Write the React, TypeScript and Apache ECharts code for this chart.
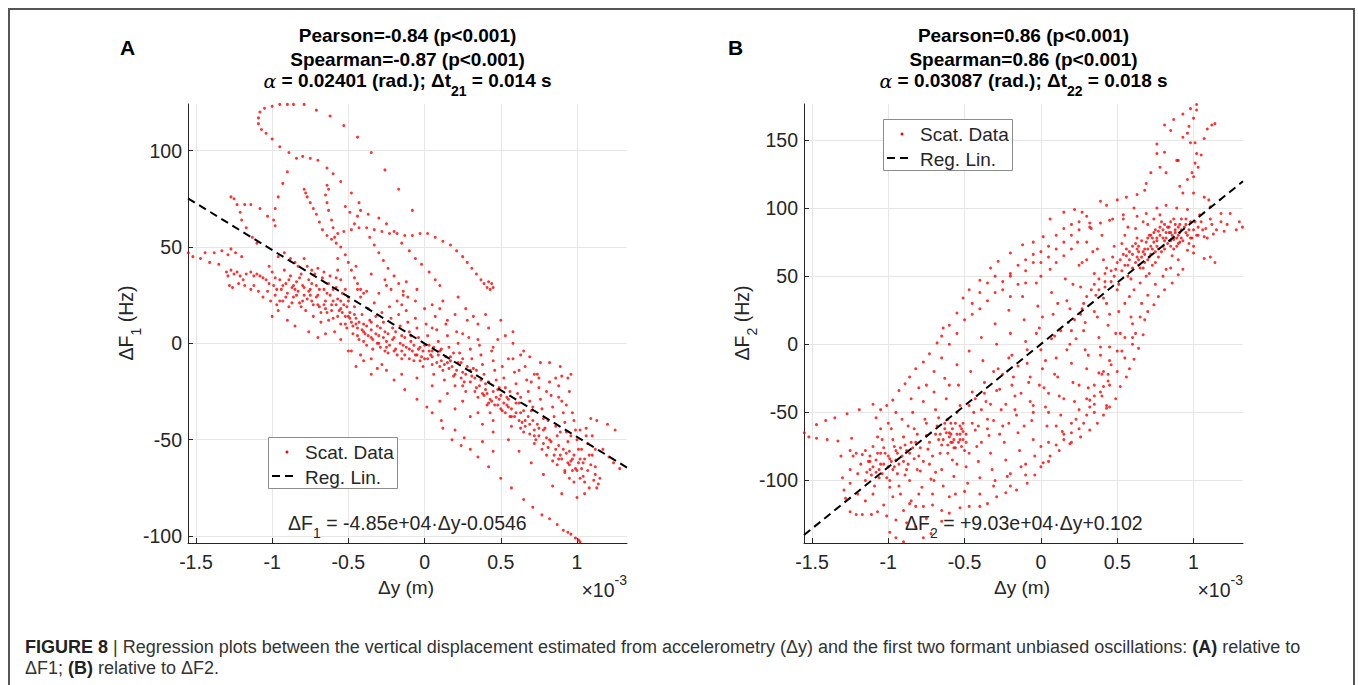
import React, { useEffect, useRef } from 'react';
import * as echarts from 'echarts';

// ---------- data (x in units of 1e-3 m, y in Hz) ----------
const xTicks = [-1.5, -1, -0.5, 0, 0.5, 1];
const yTicksA = [-100, -50, 0, 50, 100];
const yTicksB = [-100, -50, 0, 50, 100, 150];
const xRangeA = [-1.552, 1.328];
const xRangeB = [-1.552, 1.324];
const yRangeA = [-103.6, 124.2];
const yRangeB = [-145.9, 176.4];
const regA = { slope: -48.5, intercept: -0.0546 };
const regB = { slope: 90.3, intercept: 0.102 };

const titleA = ['Pearson=-0.84 (p<0.001)', 'Spearman=-0.87 (p<0.001)'];
const titleB = ['Pearson=0.86 (p<0.001)', 'Spearman=0.86 (p<0.001)'];
const alphaA = { alpha: '0.02401', sub: '21', dt: '0.014' };
const alphaB = { alpha: '0.03087', sub: '22', dt: '0.018' };

const scatterA: number[][] = [
  // top loop
  [-0.95,124],[-0.90,124],[-0.86,124],[-0.79,124],[-0.71,121],[-0.62,118],[-0.53,113],[-0.44,107],[-0.35,99],[-0.26,90],[-0.17,80],[-0.08,69],
  [-1.00,123],[-1.05,122],[-1.08,120],[-1.09,117],[-1.09,114],[-1.07,111],[-1.04,109],[-1.00,106],[-0.95,102],[-0.89,99],[-0.84,96],[-0.80,97],[-0.75,96],[-0.70,95],[-0.64,91],[-0.60,88],[-0.55,84],[-0.48,78],[-0.43,73],[-0.37,67],[-0.30,65],
  [-0.90,89],[-0.93,83],[-0.96,76],[-0.98,70],[-0.99,64],[-0.98,61],[-1.03,66],[-1.08,70],[-1.14,72],[-1.18,72],[-1.21,68],[-1.20,64],[-1.17,60],[-1.13,55],[-1.10,52],
  [-1.25,75],[-1.23,72],[-1.27,76],
  // middle loops
  [-0.79,80],[-0.78,78],[-0.77,76],[-0.75,73],[-0.73,70],[-0.71,67],[-0.69,63],[-0.67,59],[-0.64,56],
  [-0.64,82],[-0.63,80],[-0.65,77],[-0.64,73],[-0.63,69],[-0.61,64],[-0.60,60],[-0.59,55],[-0.58,52],
  [-0.61,54],[-0.57,57],[-0.53,58],[-0.48,59],[-0.43,60],[-0.38,60],[-0.33,59],[-0.28,58],[-0.23,57],[-0.18,57],[-0.13,56],[-0.08,56],[-0.03,57],[0.02,57],[0.07,55],[0.12,53],[0.17,51],[0.21,48],[0.25,45],[0.28,42],[0.31,39],[0.34,36],[0.37,33],[0.39,31],[0.41,29],[0.43,28],[0.45,29],[0.44,31],[0.42,32],
  [-0.55,50],[-0.52,46],[-0.50,42],[-0.48,38],[-0.46,34],[-0.44,31],[-0.42,28],[-0.40,26],
  [-0.46,62],[-0.44,66],[-0.42,69],[-0.49,68],[-0.52,71],
  [-0.36,55],[-0.33,51],[-0.30,47],[-0.27,43],[-0.24,39],[-0.20,35],[-0.17,31],[-0.14,27],[-0.11,24],
  [-0.25,62],[-0.20,58],[-0.15,52],[-0.10,48],[-0.06,44],[-0.02,41],[0.03,37],[0.07,33],[0.10,30],
  [-0.57,44],[-0.57,38],[-0.55,33],[-0.52,28],[-0.50,24],
  // left band
  [-1.55,47],[-1.52,45],[-1.47,44],[-1.44,47],[-1.41,42],[-1.38,47],[-1.35,41],[-1.33,48],[-1.29,46],[-1.27,49],[-1.24,47],[-1.20,45],
  [-1.30,37],[-1.29,35],[-1.27,38],[-1.25,36],[-1.23,37],[-1.21,35],[-1.19,33],[-1.17,36],[-1.14,37],[-1.12,35],[-1.10,36],[-1.08,35],[-1.06,34],[-1.04,33],[-1.02,31],
  [-1.28,30],[-1.26,29],[-1.22,31],[-1.18,30],[-1.14,28],
  // main cloud left
  [-1.02,40],[-1.00,37],[-0.99,30],[-0.98,25],[-0.97,20],[-0.96,17],[-0.95,33],[-0.94,28],[-0.93,22],[-0.92,38],[-0.91,31],[-0.90,26],[-0.89,19],[-0.88,35],[-0.87,29],[-0.86,24],[-0.85,42],[-0.84,32],[-0.83,27],[-0.82,21],[-0.81,36],[-0.80,30],[-0.79,25],[-0.78,17],[-0.77,40],[-0.76,33],[-0.75,28],[-0.74,22],[-0.73,14],[-0.72,36],[-0.71,30],[-0.70,25],[-0.69,19],[-0.68,11],[-0.67,34],[-0.66,28],[-0.65,22],[-0.64,16],[-0.63,31],[-0.62,25],[-0.61,20],[-0.60,13],[-0.59,6],[-0.58,29],[-0.57,23],[-0.56,17],[-0.55,10],[-0.54,26],[-0.53,20],[-0.52,14],[-0.51,8],
  [-0.96,45],[-0.92,47],[-0.88,44],[-0.83,40],[-0.79,44],[-0.74,38],[-0.70,39],[-0.66,37],[-0.62,35],[-0.58,34],[-1.00,14],[-0.90,12],[-0.85,9],[-0.76,6],[-0.70,3],
  [-1.12,30],[-1.09,27],[-1.06,24],[-1.03,27],[-1.01,22],[-0.98,34],[-0.97,28],[-0.95,22],[-0.93,30],[-0.91,24],[-0.89,33],[-0.87,21],[-0.86,30],[-0.84,25],[-0.82,34],[-0.81,19],[-0.79,29],[-0.77,23],[-0.76,27],[-0.74,31],[-0.73,20],[-0.71,24],[-0.69,28],[-0.68,16],[-0.66,20],[-0.64,26],[-0.63,12],[-0.61,17],[-0.60,28],[-0.58,20],[-0.57,14],[-0.55,22],[-0.54,16],[-0.52,10],[-0.51,19],
  [-0.85,28],[-0.80,22],[-0.75,25],[-0.70,20],[-0.65,18],[-0.60,22],[-0.55,18],[-0.50,14],
  // main cloud middle
  [-0.50,22],[-0.49,16],[-0.48,11],[-0.47,5],[-0.46,19],[-0.45,13],[-0.44,8],[-0.43,2],[-0.42,24],[-0.41,15],[-0.40,10],[-0.39,5],[-0.38,-1],[-0.37,18],[-0.36,12],[-0.35,7],[-0.34,2],[-0.33,21],[-0.32,14],[-0.31,9],[-0.30,4],[-0.29,-2],[-0.28,16],[-0.27,11],[-0.26,6],[-0.25,1],[-0.24,-5],[-0.23,19],[-0.22,13],[-0.21,8],[-0.20,3],[-0.19,-3],[-0.18,22],[-0.17,15],[-0.16,9],[-0.15,4],[-0.14,-1],[-0.13,-6],[-0.12,17],[-0.11,11],[-0.10,6],[-0.09,1],[-0.08,-4],[-0.07,-9],[-0.06,13],[-0.05,8],[-0.04,3],[-0.03,-2],[-0.02,-7],[-0.01,-12],
  [-0.48,-4],[-0.42,-6],[-0.35,-8],[-0.28,-11],[-0.44,28],[-0.38,27],[-0.30,26],[-0.22,28],[-0.14,25],[-0.06,22],[-0.26,33],[-0.12,32],
  [-0.49,13],[-0.47,9],[-0.46,15],[-0.44,4],[-0.43,11],[-0.41,7],[-0.40,1],[-0.38,9],[-0.37,4],[-0.35,11],[-0.34,-3],[-0.32,5],[-0.31,0],[-0.29,8],[-0.27,3],[-0.26,-4],[-0.24,5],[-0.23,-1],[-0.21,2],[-0.19,6],[-0.18,-6],[-0.16,0],[-0.15,-4],[-0.13,3],[-0.12,-2],[-0.10,-8],[-0.09,4],[-0.07,-1],[-0.06,-6],[-0.04,-3],[-0.03,-9],[-0.01,-4],[0.00,-1],[0.02,-8],[0.03,-4],[0.05,-7],[0.06,-2],[0.08,-10],[0.09,-6],[0.11,-3],[0.13,-11],[0.14,-7],[0.16,-13],[0.17,-9],[0.19,-5],[0.21,-14],[0.22,-10],[0.24,-18],[0.25,-8],[0.27,-16],[0.28,-12],[0.30,-20],[0.31,-17],[0.33,-25],[0.34,-14],
  [-0.45,10],[-0.40,6],[-0.35,3],[-0.30,0],[-0.25,-2],[-0.20,-4],[-0.15,-8],[-0.10,-3],[-0.05,-6],[0.00,-8],[0.05,-4],[0.10,-12],[0.15,-10],[0.20,-16],[0.25,-22],[0.30,-14],
  // main cloud right-centre
  [0.00,18],[0.01,10],[0.02,4],[0.03,-1],[0.04,-6],[0.05,-11],[0.06,-16],[0.07,14],[0.08,7],[0.09,1],[0.10,-4],[0.11,-9],[0.12,-14],[0.13,-19],[0.14,10],[0.15,4],[0.16,-2],[0.17,-7],[0.18,-12],[0.19,-17],[0.20,-22],[0.21,6],[0.22,0],[0.23,-5],[0.24,-10],[0.25,-15],[0.26,-20],[0.27,-25],[0.28,12],[0.29,3],[0.30,-3],[0.31,-8],[0.32,-13],[0.33,-18],[0.34,-23],[0.35,-28],[0.36,-1],[0.37,-6],[0.38,-11],[0.39,-16],[0.40,-21],[0.41,-26],[0.42,-31],[0.43,-36],[0.44,-4],[0.45,-9],[0.46,-14],[0.47,-19],[0.48,-24],[0.49,-29],[0.50,-34],
  [0.05,20],[0.12,22],[0.20,15],[0.27,18],[0.35,10],[0.42,8],[0.48,2],[0.53,4],[0.10,-30],[0.20,-34],[0.30,-38],[0.38,-42],[0.45,-46],
  // main cloud right
  [0.51,-12],[0.52,-18],[0.53,-23],[0.54,-28],[0.55,-33],[0.56,-38],[0.57,-43],[0.58,-8],[0.59,-15],[0.60,-21],[0.61,-26],[0.62,-31],[0.63,-36],[0.64,-41],[0.65,-46],[0.66,-12],[0.67,-19],[0.68,-25],[0.69,-30],[0.70,-35],[0.71,-40],[0.72,-45],[0.73,-50],[0.74,-16],[0.75,-23],[0.76,-29],[0.77,-34],[0.78,-39],[0.79,-44],[0.80,-49],[0.81,-54],[0.82,-20],[0.83,-27],[0.84,-33],[0.85,-38],[0.86,-43],[0.87,-48],[0.88,-53],[0.89,-58],[0.90,-30],[0.91,-36],[0.92,-41],[0.93,-46],[0.94,-51],[0.95,-56],[0.96,-61],[0.97,-66],[0.98,-40],[0.99,-45],[1.00,-50],[1.01,-55],[1.02,-60],[1.03,-65],[1.04,-69],[1.06,-44],[1.07,-52],[1.08,-58],[1.09,-63],[1.10,-48],[1.12,-55],
  [0.36,-22],[0.37,-19],[0.39,-27],[0.40,-24],[0.42,-20],[0.43,-29],[0.45,-25],[0.46,-32],[0.47,-28],[0.49,-23],[0.50,-27],[0.52,-31],[0.53,-36],[0.55,-29],[0.56,-25],[0.57,-34],[0.59,-38],[0.60,-31],[0.62,-40],[0.63,-28],[0.65,-35],[0.66,-43],[0.68,-38],[0.69,-47],[0.71,-33],[0.72,-52],[0.74,-42],[0.75,-48],[0.77,-55],[0.78,-45],[0.80,-58],[0.81,-40],[0.83,-51],[0.84,-61],[0.86,-55],[0.87,-63],[0.89,-46],[0.90,-60],[0.92,-67],[0.93,-57],[0.95,-63],[0.96,-48],[0.98,-58],[0.99,-65],[1.01,-62],[1.03,-55],[1.05,-60],[1.07,-66],[1.10,-58],[1.12,-64],[1.15,-70],[1.06,-48],[1.02,-45],[0.97,-36],[0.93,-32],[0.88,-28],
  [0.38,-26],[0.41,-32],[0.44,-30],[0.48,-32],[0.51,-35],[0.54,-32],[0.57,-38],[0.60,-36],[0.63,-44],[0.66,-40],[0.69,-42],[0.72,-48],[0.75,-44],[0.78,-52],[0.82,-50],[0.85,-58],[0.88,-60],[0.91,-55],[0.94,-62],[0.97,-60],[1.00,-66],[1.04,-62],
  [0.58,0],[0.65,-4],[0.69,-7],[0.76,-10],[0.82,-10],[0.89,-12],[0.96,-16],[0.94,-18],[0.90,-17],[0.86,-18],[0.75,-18],[0.72,-16],
  // sparse region above the band
  [-0.45,40],[-0.35,36],[-0.25,30],[-0.15,20],[-0.05,28],[0.05,8],[0.15,12],[0.25,5],[0.35,2],[0.45,-2],[0.55,-8],[0.62,-14],[0.70,-20],[0.80,-25],[0.88,-22],[0.95,-25],[0.10,18],[0.22,24],[0.32,14],[0.40,15],[0.50,12],[0.58,6],[0.63,-6],
  // sparse region below the band
  [-0.65,5],[-0.55,2],[-0.45,-12],[-0.35,-16],[-0.25,-14],[-0.15,-16],[-0.05,-18],[0.05,-22],[0.15,-26],[0.25,-30],[0.35,-36],[0.45,-40],[0.55,-50],[0.62,-56],[0.70,-62],[0.78,-68],[0.84,-74],[0.90,-78],[1.00,-80],[1.05,-78],
  // right tail
  [1.09,-39],[1.13,-40],[1.20,-42],[1.25,-45],[1.17,-55],[1.21,-59],[1.24,-62],[1.28,-65],[1.33,-67],[1.11,-71],[1.13,-75],[1.14,-73],[1.12,-68],[1.05,-72],[1.08,-75],[1.02,-70],[0.98,-72],[0.95,-70],[0.92,-66],
  // lower stripe
  [-0.50,-4],[-0.40,-9],[-0.31,-13],[-0.20,-19],[-0.13,-24],[-0.05,-29],[0.015,-33],[0.11,-40],[0.20,-45],[0.26,-49],[0.35,-59],[0.42,-64],[0.50,-70],[0.57,-75],[0.65,-81],[0.71,-85],[0.77,-89],[0.82,-91],[0.87,-94],[0.91,-97],[0.94,-98],[0.96,-99],[0.99,-101],[1.01,-102],[1.02,-103],
  [0.05,-36],[0.12,-44],[0.18,-50],[0.24,-53],[0.30,-55],[0.38,-51],[0.45,-56],
];

const scatterB: number[][] = [
  // left tail
  [-1.55,-65],[-1.47,-59],[-1.41,-56],[-1.35,-54],[-1.27,-51],[-1.19,-48],[-1.10,-44],[-1.52,-68],[-1.47,-69],[-1.40,-70],[-1.33,-71],[-1.24,-69],[-1.31,-82],[-1.25,-78],
  // lower-left and outer boundary
  [-1.30,-98],[-1.29,-107],[-1.28,-113],[-1.25,-123],[-1.21,-125],[-1.17,-125],[-1.11,-125],[-1.25,-92],[-1.23,-82],[-1.21,-80],[-1.17,-81],[-1.12,-82],[-1.07,-68],[-1.08,-54],[-1.05,-48],[-1.01,-45],[-0.97,-41],[-0.93,-34],[-0.89,-29],[-0.86,-24],[-0.82,-18],[-0.77,-13],[-0.73,-7],[-0.68,1],[-0.65,6],[-0.64,12],[-0.60,14],[-0.55,23],[-0.51,34],[-0.47,40],[-0.40,47],[-0.33,56],[-0.28,61],[-0.20,67],[-0.12,73],[-0.05,75],[0.015,79],[0.06,92],[0.15,97],[0.22,99],[0.27,97],[0.30,94],[0.32,89],[0.39,105],[0.43,102],[0.50,106],[0.56,108],[0.63,110],[0.68,113],
  // upper right spikes
  [0.69,118],[0.72,126],[0.76,140],[0.81,161],[0.87,165],[0.93,169],[0.98,173],[1.02,176],[1.02,172],[1.00,166],[0.97,160],[0.96,155],[1.01,148],[1.02,140],[1.01,133],[0.99,126],[0.96,121],[0.91,116],[0.76,147],[0.81,141],[0.82,126],[0.78,130],[0.89,135],[0.93,152],[0.98,148],[0.85,157],[0.90,135],
  [1.07,151],[1.09,158],[1.12,161],[1.14,162],[1.05,139],[1.03,130],[1.00,123],[0.93,111],[1.00,111],[1.07,108],[1.10,106],[1.11,101],[1.18,96],[1.24,96],[1.30,90],[1.32,86],[1.28,84],[1.20,83],[1.13,81],[1.07,79],[1.02,80],[0.98,78],[1.11,92],[1.04,95],[0.96,99],[0.89,100],[0.82,102],[0.76,100],[0.69,96],[0.63,94],[0.54,92],[0.45,91],[0.39,89],[0.32,86],
  [0.91,75],[0.96,69],[1.00,67],[1.07,63],[1.14,60],[1.11,64],[0.93,55],[0.90,51],[0.86,45],[0.81,40],[0.77,35],[0.74,29],[0.70,24],[0.68,18],[0.67,7],[0.64,-3],[0.61,-11],[0.58,-18],[0.56,-24],[0.52,-31],[0.49,-40],[0.45,-46],[0.41,-52],[0.37,-58],[0.32,-63],[0.26,-68],[0.19,-73],[0.12,-78],[0.06,-82],[0.015,-87],[-0.04,-96],[-0.09,-102],[-0.16,-107],[-0.23,-109],[-0.29,-112],[-0.35,-117],[-0.40,-119],[-0.47,-119],[-0.53,-120],[-0.60,-124],[-0.65,-122],[-0.71,-118],[-0.77,-119],[-0.82,-119],[-0.86,-117],[-0.90,-122],[-0.95,-129],[-0.99,-138],[-0.95,-142],[-0.90,-145],[-0.84,-146],[-0.77,-142],[-0.72,-139],[-0.82,-134],[-0.88,-131],[-1.03,-118],[-1.07,-123],[-1.01,-126],[-0.97,-112],[-0.93,-104],[-0.99,-100],[-1.04,-95],
  // small loop
  [0.38,-21],[0.41,-20],[0.44,-22],[0.44,-27],[0.41,-31],[0.39,-35],[0.35,-38],[0.32,-41],[0.43,-45],[0.43,-47],
  // interior
  [-1.20,-95],[-1.18,-88],[-1.15,-100],[-1.12,-92],[-1.10,-75],[-1.08,-85],[-1.06,-98],[-1.04,-70],[-1.02,-80],[-1.00,-90],[-0.99,-105],[-0.98,-62],[-0.96,-75],[-0.95,-85],[-0.94,-95],[-0.92,-110],[-0.91,-55],[-0.90,-68],[-0.88,-78],[-0.87,-88],[-0.86,-100],[-0.85,-115],[-0.84,-50],[-0.83,-62],[-0.82,-72],[-0.80,-82],[-0.79,-93],[-0.78,-105],[-0.77,-42],[-0.76,-55],[-0.75,-67],[-0.74,-77],[-0.73,-88],[-0.72,-99],[-0.71,-110],
  [-0.70,-35],[-0.69,-48],[-0.68,-60],[-0.67,-70],[-0.66,-80],[-0.65,-92],[-0.64,-104],[-0.63,-25],[-0.62,-40],[-0.61,-55],[-0.60,-65],[-0.59,-72],[-0.58,-85],[-0.57,-97],[-0.56,-110],[-0.55,-15],[-0.54,-30],[-0.53,-45],[-0.52,-62],[-0.51,-70],[-0.50,-78],[-0.49,-90],[-0.48,-102],[-0.47,-5],[-0.46,-20],[-0.45,-35],[-0.44,-50],[-0.43,-63],[-0.42,-75],[-0.41,-86],[-0.40,-98],[-0.39,5],[-0.38,-12],[-0.37,-28],[-0.36,-42],[-0.35,-55],[-0.34,-67],[-0.33,-80],[-0.32,-92],[-0.31,-104],[-0.30,15],
  [-0.62,-65],[-0.60,-68],[-0.58,-62],[-0.57,-70],[-0.55,-66],[-0.54,-72],[-0.53,-60],[-0.52,-75],[-0.56,-58],
  [-0.29,0],[-0.28,-18],[-0.27,-33],[-0.26,-48],[-0.25,-60],[-0.24,-72],[-0.23,-85],[-0.22,-97],[-0.21,25],[-0.20,8],[-0.19,-8],[-0.18,-24],[-0.17,-38],[-0.16,-52],[-0.15,-65],[-0.14,-78],[-0.13,-90],[-0.12,35],[-0.11,18],[-0.10,2],[-0.09,-14],[-0.08,-28],[-0.07,-42],[-0.06,-56],[-0.05,-70],[-0.04,-82],[-0.03,45],[-0.02,28],[-0.01,12],[0.00,-4],[0.01,-18],[0.02,-32],[0.03,-46],[0.04,-60],[0.05,-72],[0.06,55],[0.07,38],[0.08,22],[0.09,6],[0.10,-10],
  [0.11,-24],[0.12,-38],[0.13,-52],[0.14,-64],[0.15,65],[0.16,48],[0.17,32],[0.18,16],[0.19,0],[0.20,-14],[0.21,-28],[0.22,-42],[0.23,-55],[0.24,75],[0.25,58],[0.26,42],[0.27,26],[0.28,10],[0.29,-4],[0.30,-18],[0.31,-32],[0.32,-46],[0.33,85],[0.34,68],[0.35,52],[0.36,36],[0.37,20],[0.38,5],[0.39,-8],[0.40,80],[0.41,62],[0.42,46],[0.43,30],[0.44,14],[0.45,-2],[0.46,-15],[0.47,92],[0.48,72],[0.49,55],[0.50,40],
  [0.51,24],[0.52,8],[0.53,-5],[0.54,95],[0.55,80],[0.56,65],[0.57,50],[0.58,35],[0.59,20],[0.60,5],[0.61,100],[0.62,85],[0.63,70],[0.64,58],[0.65,45],[0.66,30],[0.67,68],[0.68,60],[0.69,75],[0.70,88],[0.71,52],[0.72,66],[0.73,78],[0.74,92],[0.75,60],[0.76,72],[0.77,83],[0.78,95],[0.79,68],[0.80,78],[0.81,88],[0.82,55],[0.83,74],[0.84,82],[0.85,90],[0.86,65],[0.87,77],[0.88,84],[0.89,72],[0.90,80],
  [0.55,58],[0.58,62],[0.60,66],[0.62,60],[0.64,68],[0.66,64],[0.70,70],[0.74,75],[0.78,80],[0.82,78],[0.85,76],[0.88,82],[0.90,86],[0.92,84],[0.95,82],[0.80,72],[0.75,68],[0.70,62],
  [0.52,62],[0.54,66],[0.56,70],[0.58,68],[0.60,72],[0.62,74],[0.64,72],[0.66,76],[0.68,70],[0.70,78],[0.72,80],[0.74,82],[0.76,78],[0.78,86],[0.80,84],[0.82,82],[0.84,86],[0.86,80],[0.88,88],[0.90,74],[0.92,78],[0.94,86],[0.96,80],[0.60,56],[0.64,62],[0.68,66],[0.72,72],[0.76,76],[0.50,60],[0.53,54],[0.57,58],[0.63,64],[0.67,56],[0.71,64],[0.73,70],[0.77,70],[0.81,76],[0.85,82],[0.87,70],[0.91,82],
  [0.35,44],[0.38,48],[0.42,52],[0.46,54],[0.48,50],[0.46,46],[0.42,42],[0.38,40],[0.30,35],[0.28,30],[0.26,22],[0.22,18],[0.20,10],
  [0.92,92],[0.95,88],[0.98,90],[1.00,84],[1.03,86],[1.05,90],[1.08,85],[0.97,74],[1.00,72],
  [-0.45,30],[-0.40,38],[-0.35,45],[-0.30,50],[-0.25,40],[-0.20,50],[-0.15,58],[-0.10,62],[-0.05,60],[0.00,68],[0.05,72],[0.10,80],[0.15,85],[0.20,88],[0.25,84],[-0.20,35],[-0.10,45],[0.00,50],[0.10,60],[0.20,70],[0.30,75],
  [0.10,-60],[0.15,-70],[0.20,-58],[0.25,-48],[0.30,-40],[0.35,-30],[0.40,-22],[0.45,-12],[0.50,-5],[0.55,5],[0.60,15],[0.20,-65],[0.28,-58],[0.35,-50],[0.00,-75],[-0.10,-88],[-0.20,-95],[0.05,-50],[-0.05,-45],
  // extra interior density
  [-1.15,-78],[-1.13,-86],[-1.11,-96],[-1.09,-104],[-1.07,-80],[-1.05,-88],[-1.03,-76],[-1.01,-98],[-0.99,-84],[-0.97,-70],[-0.97,-92],[-0.95,-78],[-0.93,-88],[-0.91,-82],[-0.89,-74],[-0.89,-96],[-0.87,-60],[-0.85,-72],[-0.83,-84],[-0.81,-92],[-0.81,-66],[-0.79,-76],[-0.77,-86],[-0.75,-58],[-0.73,-72],[-0.71,-82],[-0.69,-66],[-0.69,-94],[-0.67,-54],[-0.65,-74],[-0.63,-62],[-0.61,-80],[-0.59,-58],[-0.57,-76],[-0.55,-50],[-0.55,-88],[-0.53,-70],[-0.51,-58],[-0.49,-66],[-0.47,-45],[-0.47,-80],[-0.45,-58],[-0.43,-40],[-0.41,-60],[-0.39,-48],[-0.39,-72],[-0.37,-36],[-0.35,-62],[-0.33,-44],[-0.31,-20],[-0.31,-56],[-0.29,-34],[-0.27,-66],[-0.25,-22],[-0.23,-44],[-0.21,-10],[-0.21,-58],[-0.19,-30],[-0.17,-48],[-0.15,-16],[-0.13,-36],[-0.11,-60],[-0.09,-4],[-0.07,-24],[-0.05,-50],[-0.03,8],[-0.01,-30],[0.01,20],[0.03,-12],[0.05,-36],[0.07,4],[0.09,-22],[0.11,30],[0.13,10],[0.15,-40],[0.17,-4],[0.19,26],[0.21,44],[0.23,4],[0.25,-30],[0.27,60],[0.29,16],[0.31,-8],[0.33,40],[0.35,24],[0.37,70],[0.39,-2],[0.41,34],[0.43,56],[0.45,22],[0.47,64],[0.49,8],[0.51,44],[0.53,74],[0.55,30],[0.57,86],[0.59,48],[0.61,40],[0.63,78],[0.65,56],[0.67,90],[0.69,50],[0.71,80],[0.73,58],[0.75,84],[0.77,64],[0.79,90],[0.81,70],[0.83,86],[0.85,72],[0.87,92],[0.89,78],[0.91,88],[0.93,76],[0.95,92],[0.97,84],[0.99,78],[1.01,90],[1.03,80],[1.06,84],[1.09,78],[1.12,88],[1.15,84],[1.18,90],[1.22,88],
  [-1.12,-86],[-1.10,-90],[-1.08,-94],[-1.05,-80],[-1.03,-88],[-1.00,-82],[-0.98,-86],[-0.96,-90],[-0.94,-80],[-0.92,-76],[-0.90,-86],[-0.88,-92],[-0.86,-80],[-0.84,-76],[-1.14,-94],[-1.06,-92],
  [-0.66,-66],[-0.64,-70],[-0.61,-74],[-0.59,-66],[-0.56,-76],[-0.53,-66],[-0.51,-64],[-0.49,-72],[-0.63,-58],[-0.58,-72],
  [-0.75,-30],[-0.70,-20],[-0.65,-10],[-0.60,0],[-0.55,8],[-0.50,18],[-0.45,22],[-0.40,26],[-0.35,32],[-0.30,38],[-0.25,46],[-0.20,52],[-0.15,44],[-0.10,54],[-0.05,66],[0.00,60],[0.05,64],[0.10,70],[0.15,75],[0.20,80],[0.25,90],[0.30,62],[-0.60,-30],[-0.85,-40],[-0.80,-32],[-0.95,-50],[-1.00,-58],[-1.05,-62],
  [-0.80,-110],[-0.70,-100],[-0.60,-112],[-0.50,-108],[-0.40,-110],[-0.30,-100],[-0.20,-104],[-0.10,-96],[0.00,-90],[0.05,-86],[0.10,-74],[0.15,-66],[0.20,-72],[0.25,-62],[0.30,-52],[0.35,-44],[0.40,-38],[0.45,-30],[0.50,-20],[0.55,-10],[0.60,0],[0.62,8],[0.65,20],[0.70,36],[0.75,44],[0.80,50],[0.85,56],[0.90,62],[-0.65,-130],[-0.75,-128],[-1.10,-110],[-1.15,-115],[-1.20,-110],[-1.25,-102],
];

// ---------- styling ----------
const FONT = 'Liberation Sans, Arial, Helvetica, sans-serif';
const AX = '#262626';
const GRID_A = { left: 188, top: 104, width: 439, height: 439 };
const GRID_B = { left: 804, top: 104, width: 439, height: 439 };
const TICK_FS = 19.5;

function regLine(reg: { slope: number; intercept: number }, xr: number[]) {
  return xr.map((x) => [x, reg.slope * x + reg.intercept]);
}

function xAxisCfg(gridIndex: number, xr: number[]) {
  return {
    type: 'value', gridIndex, min: xr[0], max: xr[1],
    axisLine: { show: true, onZero: false, lineStyle: { color: AX, width: 1 } },
    axisTick: { show: true, inside: true, length: 5, customValues: xTicks, lineStyle: { color: AX } },
    axisLabel: { customValues: xTicks, fontSize: TICK_FS, color: AX, fontFamily: FONT, margin: 9, formatter: (v: number) => String(v) },
    splitLine: { show: true, lineStyle: { color: '#e6e6e6', width: 1 } },
  };
}
function yAxisCfg(gridIndex: number, yr: number[], ticks: number[]) {
  return {
    type: 'value', gridIndex, min: yr[0], max: yr[1],
    axisLine: { show: true, onZero: false, lineStyle: { color: AX, width: 1 } },
    axisTick: { show: true, inside: true, length: 5, customValues: ticks, lineStyle: { color: AX } },
    axisLabel: { customValues: ticks, fontSize: TICK_FS, color: AX, fontFamily: FONT, margin: 6, formatter: (v: number) => String(v) },
    splitLine: { show: true, lineStyle: { color: '#e6e6e6', width: 1 } },
  };
}

function titleGraphics(cx: number, lines: string[], al: { alpha: string; sub: string; dt: string }) {
  return [
    { type: 'text', x: cx, y: 35, z: 100, style: { text: lines[0], fontFamily: FONT, fontSize: 19, fontWeight: 'bold', fill: '#000', align: 'center', verticalAlign: 'middle' } },
    { type: 'text', x: cx, y: 59, z: 100, style: { text: lines[1], fontFamily: FONT, fontSize: 19, fontWeight: 'bold', fill: '#000', align: 'center', verticalAlign: 'middle' } },
    {
      type: 'text', x: cx, y: 71, z: 100,
      style: {
        text: `{a|α}{m| = ${al.alpha} (rad.); Δt}{s|${al.sub}}{m| = ${al.dt} s}`,
        align: 'center', verticalAlign: 'top', fill: '#000',
        rich: {
          a: { fontFamily: 'DejaVu Serif, serif', fontStyle: 'italic', fontSize: 19, verticalAlign: 'top', fill: '#000' },
          m: { fontFamily: FONT, fontSize: 19, fontWeight: 'bold', verticalAlign: 'top', fill: '#000' },
          s: { fontFamily: FONT, fontSize: 14, fontWeight: 'bold', verticalAlign: 'top', padding: [13, 0, 0, 0], fill: '#000' },
        },
      },
    },
  ];
}

function legendGraphics(bx: number, by: number) {
  return [
    { type: 'rect', z: 100, shape: { x: bx + 0.5, y: by + 0.5, width: 129, height: 51 }, style: { fill: '#fff', stroke: '#8c8c8c', lineWidth: 1 } },
    { type: 'circle', z: 101, shape: { cx: bx + 19, cy: by + 15, r: 1.5 }, style: { fill: '#ff0000' } },
    { type: 'text', z: 101, x: bx + 37, y: by + 15, style: { text: 'Scat. Data', fontFamily: FONT, fontSize: 19, fill: AX, align: 'left', verticalAlign: 'middle' } },
    { type: 'line', z: 101, shape: { x1: bx + 4, y1: by + 39, x2: bx + 30, y2: by + 39 }, style: { stroke: '#000', lineWidth: 2, lineDash: [8, 5] } },
    { type: 'text', z: 101, x: bx + 37, y: by + 40, style: { text: 'Reg. Lin.', fontFamily: FONT, fontSize: 19, fill: AX, align: 'left', verticalAlign: 'middle' } },
  ];
}

function subText(x: number, y: number, pre: string, sub: string, post: string, align: string, rotation = 0) {
  return {
    type: 'text', x, y, rotation, z: 100,
    style: {
      text: `{m|${pre}}{s|${sub}}{m|${post}}`,
      align, verticalAlign: 'top', fill: AX,
      rich: {
        m: { fontFamily: FONT, fontSize: 19.5, verticalAlign: 'top', fill: AX },
        s: { fontFamily: FONT, fontSize: 14, verticalAlign: 'top', padding: [13, 0, 0, 0], fill: AX },
      },
    },
  };
}

function supText(x: number, y: number) {
  return {
    type: 'text', x, y, z: 100,
    style: {
      text: '{m|×10}{p|-3}',
      align: 'right', verticalAlign: 'top', fill: AX,
      rich: {
        m: { fontFamily: FONT, fontSize: 19.5, verticalAlign: 'top', padding: [7, 0, 0, 0], fill: AX },
        p: { fontFamily: FONT, fontSize: 14, verticalAlign: 'top', fill: AX },
      },
    },
  };
}

export default function App() {
  const ref = useRef<HTMLDivElement>(null);
  useEffect(() => {
    if (!ref.current) return;
    const chart = echarts.init(ref.current, null, { renderer: 'svg' });
    const option: any = {
      animation: false,
      backgroundColor: '#fff',
      grid: [
        { ...GRID_A, containLabel: false },
        { ...GRID_B, containLabel: false },
      ],
      xAxis: [xAxisCfg(0, xRangeA), xAxisCfg(1, xRangeB)],
      yAxis: [yAxisCfg(0, yRangeA, yTicksA), yAxisCfg(1, yRangeB, yTicksB)],
      series: [
        { type: 'scatter', xAxisIndex: 0, yAxisIndex: 0, data: scatterA, symbol: 'circle', symbolSize: 3, itemStyle: { color: '#ff0000' }, silent: true },
        { type: 'line', xAxisIndex: 0, yAxisIndex: 0, data: regLine(regA, xRangeA), showSymbol: false, symbol: 'none', lineStyle: { color: '#000', width: 2, type: [8, 5] }, z: 3, silent: true },
        { type: 'scatter', xAxisIndex: 1, yAxisIndex: 1, data: scatterB, symbol: 'circle', symbolSize: 3, itemStyle: { color: '#ff0000' }, silent: true },
        { type: 'line', xAxisIndex: 1, yAxisIndex: 1, data: regLine(regB, xRangeB), showSymbol: false, symbol: 'none', lineStyle: { color: '#000', width: 2, type: [8, 5] }, z: 3, silent: true },
      ],
      graphic: [
        { type: 'rect', z: 0, shape: { x: 9, y: 9, width: 1345, height: 700 }, style: { fill: 'none', stroke: '#555', lineWidth: 2 } },
        { type: 'text', x: 120, y: 47, z: 100, style: { text: 'A', fontFamily: FONT, fontSize: 21, fontWeight: 'bold', fill: '#000', align: 'left', verticalAlign: 'middle' } },
        { type: 'text', x: 728, y: 47, z: 100, style: { text: 'B', fontFamily: FONT, fontSize: 21, fontWeight: 'bold', fill: '#000', align: 'left', verticalAlign: 'middle' } },
        ...titleGraphics(407.5, titleA, alphaA),
        ...titleGraphics(1023.5, titleB, alphaB),
        { type: 'text', x: 406, y: 587, z: 100, style: { text: 'Δy (m)', fontFamily: FONT, fontSize: 19, fill: AX, align: 'center', verticalAlign: 'middle' } },
        { type: 'text', x: 1022, y: 587, z: 100, style: { text: 'Δy (m)', fontFamily: FONT, fontSize: 19, fill: AX, align: 'center', verticalAlign: 'middle' } },
        subText(116, 323, 'ΔF', '1', ' (Hz)', 'center', Math.PI / 2),
        subText(732, 323, 'ΔF', '2', ' (Hz)', 'center', Math.PI / 2),
        supText(627, 573),
        supText(1243, 573),
        ...legendGraphics(268, 437),
        ...legendGraphics(883, 119),
        subText(288, 513, 'ΔF', '1', ' = -4.85e+04·Δy-0.0546', 'left'),
        subText(905, 513, 'ΔF', '2', ' = +9.03e+04·Δy+0.102', 'left'),
        {
          type: 'text', x: 25, y: 647, z: 100,
          style: {
            text: '{b|FIGURE 8 }{n|| Regression plots between the vertical displacement estimated from accelerometry (Δy) and the first two formant unbiased oscillations: }{b|(A)}{n| relative to}',
            align: 'left', verticalAlign: 'middle',
            rich: {
              b: { fontFamily: FONT, fontSize: 18, fontWeight: 'bold', fill: '#222' },
              n: { fontFamily: FONT, fontSize: 18, fill: '#333' },
            },
          },
        },
        {
          type: 'text', x: 25, y: 668, z: 100,
          style: {
            text: '{n|ΔF1; }{b|(B)}{n| relative to ΔF2.}',
            align: 'left', verticalAlign: 'middle',
            rich: {
              b: { fontFamily: FONT, fontSize: 18, fontWeight: 'bold', fill: '#222' },
              n: { fontFamily: FONT, fontSize: 18, fill: '#333' },
            },
          },
        },
      ],
    };
    chart.setOption(option);
    return () => chart.dispose();
  }, []);
  return <div ref={ref} style={{ position: 'fixed', left: 0, top: 0, width: 1358, height: 685 }} />;
}
